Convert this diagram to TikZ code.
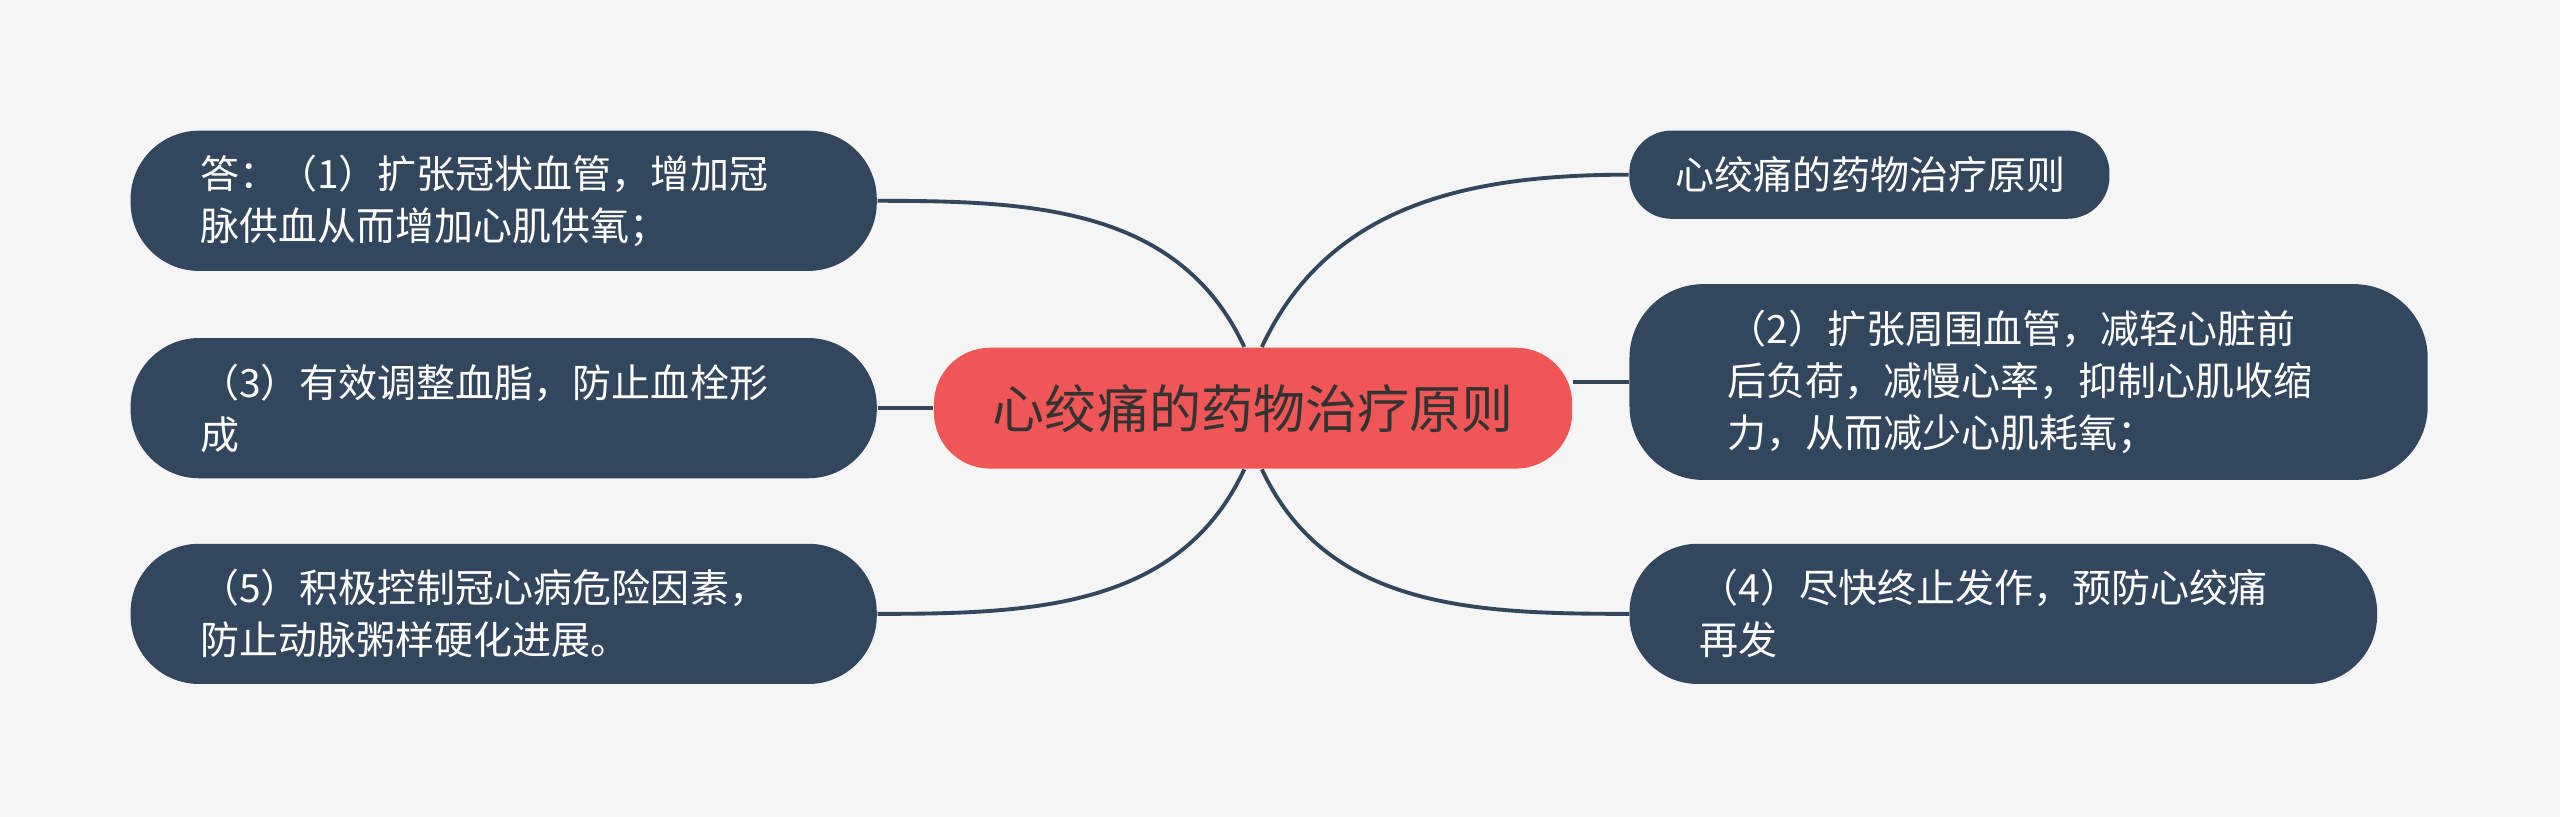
\documentclass[tikz,border=0pt]{standalone}
\usepackage{fontspec}
\setmainfont{Noto Sans CJK SC}
\definecolor{slate}{HTML}{32475E}
\definecolor{coral}{HTML}{F05656}
\definecolor{paper}{HTML}{F5F5F5}
\definecolor{ink}{HTML}{333333}
\pgfdeclarelayer{bg}
\pgfsetlayers{bg,main}
\begin{document}
\begin{tikzpicture}[x=0.4645pt, y=-0.4645pt,
root/.style={fill=coral, text=ink, rounded corners=16pt, minimum width=181.6pt,
  minimum height=34.4pt, font=\fontsize{14.8}{18}\selectfont},
leaf/.style={fill=slate, text=white, align=left, rounded corners=19.5pt,
  minimum height=39.9pt, inner ysep=0pt, font=\fontsize{11.1}{14.8}\selectfont},
link/.style={draw=slate, line width=1.1pt}]
\node[root] (o) at (767.5,250) {心绞痛的药物治疗原则};
\node[leaf, text width=172.7pt, inner xsep=19.8pt] (a1) at (308.5,123)
    {答：（1）扩张冠状血管，增加冠\\脉供血从而增加心肌供氧；};
\node[leaf, text width=172.7pt, inner xsep=19.8pt] (a3) at (308.5,250)
    {（3）有效调整血脂，防止血栓形\\成};
\node[leaf, text width=172.7pt, inner xsep=19.8pt] (a5) at (308.5,376)
    {（5）积极控制冠心病危险因素，\\防止动脉粥样硬化进展。};
\node[leaf, text width=110.2pt, inner xsep=13.2pt, minimum height=25.1pt,
    rounded corners=12pt] (t) at (1145,107) {心绞痛的药物治疗原则};
\node[leaf, text width=171.3pt, inner xsep=27.9pt, minimum height=55.7pt,
    rounded corners=21pt] (a2) at (1242.5,234)
    {（2）扩张周围血管，减轻心脏前\\后负荷，减慢心率，抑制心肌收缩\\力，从而减少心肌耗氧；};
\node[leaf, text width=172.7pt, inner xsep=20pt] (a4) at (1227,376)
    {（4）尽快终止发作，预防心绞痛\\再发};
\begin{pgfonlayer}{bg}
\fill[paper] (0,0) rectangle (1568,500.4);
\draw[link] (a1.east) to[out=0, in=115] ([xshift=-2.5pt]o.north);
\draw[link] (a3.east) -- (o.west);
\draw[link] (a5.east) to[out=0, in=-115] ([xshift=-2.5pt]o.south);
\draw[link] (t.west) to[out=180, in=65] ([xshift=2.5pt]o.north);
\draw[link] (o.east |- a2.west) -- (a2.west);
\draw[link] (a4.west) to[out=180, in=-65] ([xshift=2.5pt]o.south);
\end{pgfonlayer}
\end{tikzpicture}
\end{document}
